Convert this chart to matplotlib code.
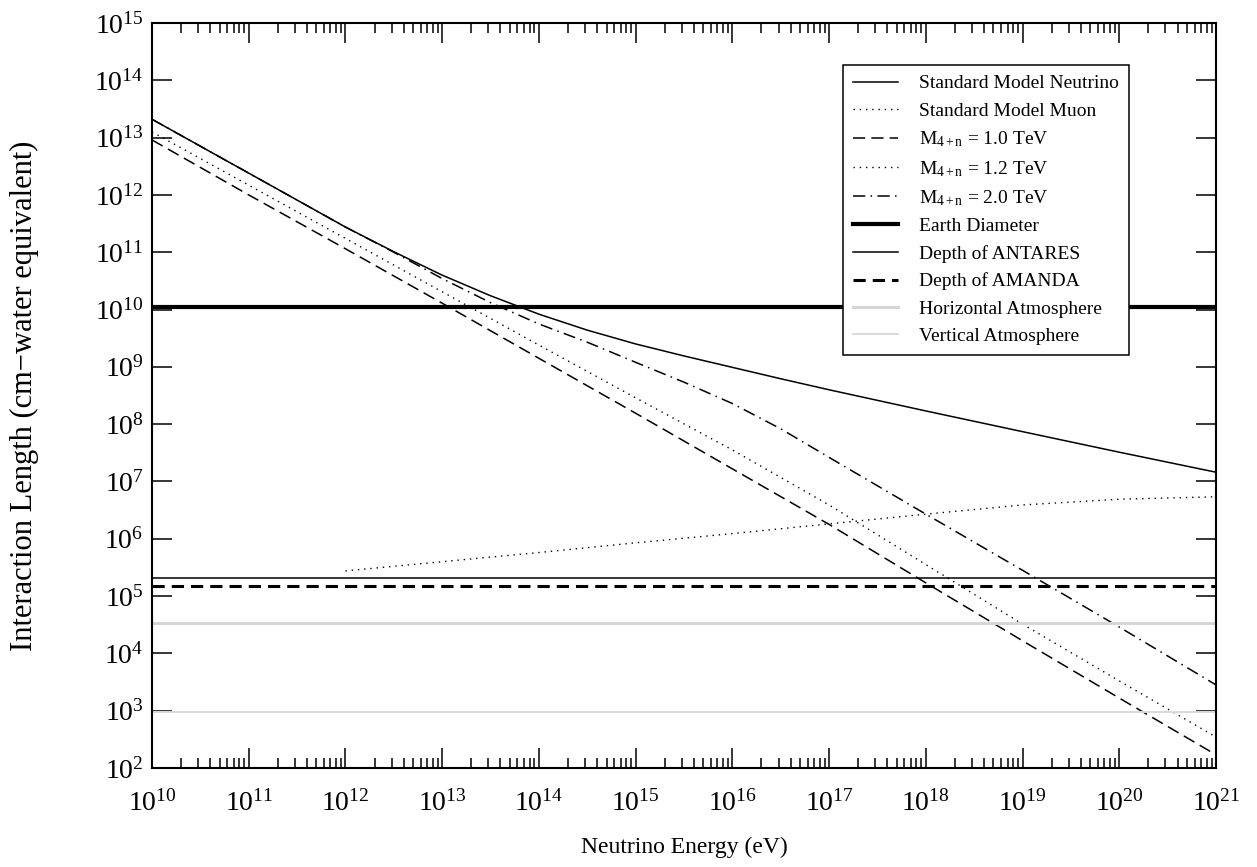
import numpy as np
import matplotlib
matplotlib.use('Agg')
import matplotlib.pyplot as plt
from matplotlib.ticker import LogLocator, NullLocator

plt.rcParams['font.family'] = ['Liberation Serif', 'DejaVu Serif']
plt.rcParams['mathtext.fontset'] = 'custom'
plt.rcParams['mathtext.rm'] = 'Liberation Serif'
plt.rcParams['mathtext.it'] = 'Liberation Serif:italic'

# energias (eV)
energia = [1e10, 1e11, 1e12, 1e13, 1e14, 1e15, 1e16, 1e17, 1e18, 1e19, 1e20, 1e21]
energia_fina = [1e10, 1e11, 1e12, 3.16e12, 1e13, 3.16e13, 1e14, 3.16e14, 1e15,
                3.16e15, 1e16, 3.16e16, 1e17, 1e18, 1e19, 1e20, 1e21]
energia_muon = [1e12, 1e13, 1e14, 1e15, 1e16, 1e17, 1e18, 1e19, 1e20, 1e21]

# longitudes de interaccion (cm agua equivalente)
sm_neutrino = [2.09e13, 2.40e12, 2.75e11, 1.02e11, 3.98e10, 1.74e10, 8.3e9, 4.37e9,
               2.51e9, 1.55e9, 9.8e8, 6.2e8, 3.98e8, 1.70e8, 7.4e7, 3.24e7, 1.45e7]
m_2_0 = [2.09e13, 2.40e12, 2.75e11, 1.0e11, 3.47e10, 1.32e10, 5.6e9, 2.69e9,
         1.20e9, 5.4e8, 2.29e8, 8.3e7, 2.63e7, 2.69e6, 2.82e5, 2.88e4, 2.82e3]
m_1_2 = [1.26e13, 1.48e12, 1.74e11, 2.04e10, 2.40e9, 2.88e8, 3.55e7, 3.89e6,
         3.55e5, 3.24e4, 3.31e3, 347]
m_1_0 = [9.1e12, 1.0e12, 1.15e11, 1.29e10, 1.41e9, 1.55e8, 1.66e7, 1.78e6,
         1.70e5, 1.66e4, 1.66e3, 170]
sm_muon = [2.75e5, 3.98e5, 5.75e5, 8.5e5, 1.23e6, 1.82e6, 2.69e6, 3.89e6, 4.9e6, 5.4e6]

# profundidades de referencia
diametro_tierra = 1.1e10
prof_antares = 2.1e5
prof_amanda = 1.5e5
atm_horizontal = 3.4e4
atm_vertical = 930

fig = plt.figure(figsize=(12.57, 8.67), dpi=100)
ax = fig.add_axes([152 / 1257, 99 / 867, 1064 / 1257, 745 / 867])

punteado = (0, (1, 3.5))
ax.plot(energia_fina, sm_neutrino, color='black', lw=1.1, label='Standard Model Neutrino')
ax.plot(energia_muon, sm_muon, color='black', lw=1.0, linestyle=punteado,
        label='Standard Model Muon')
ax.plot(energia, m_1_0, color='black', lw=1.1, linestyle=(0, (8, 4)),
        label=r'M$_{\mathrm{4+n}}$ = 1.0 TeV')
ax.plot(energia, m_1_2, color='black', lw=1.0, linestyle=punteado,
        label=r'M$_{\mathrm{4+n}}$ = 1.2 TeV')
ax.plot(energia_fina, m_2_0, color='black', lw=1.1, linestyle=(0, (8, 3.5, 1, 3.5)),
        label=r'M$_{\mathrm{4+n}}$ = 2.0 TeV')
ax.axhline(diametro_tierra, color='black', lw=3, label='Earth Diameter')
ax.axhline(prof_antares, color='black', lw=1.1, label='Depth of ANTARES')
ax.axhline(prof_amanda, color='black', lw=2.2, linestyle=(0, (4, 2.3)),
           label='Depth of AMANDA')
ax.axhline(atm_horizontal, color='#d6d6d6', lw=2.2, label='Horizontal Atmosphere')
ax.axhline(atm_vertical, color='#d9d9d9', lw=1.4, label='Vertical Atmosphere')

ax.set_xscale('log')
ax.set_yscale('log')
ax.set_xlim(1e10, 1e21)
ax.set_ylim(1e2, 1e15)

ax.xaxis.set_major_locator(LogLocator(base=10, numticks=30))
ax.xaxis.set_minor_locator(LogLocator(base=10, subs=np.arange(2, 10), numticks=30))
ax.yaxis.set_major_locator(LogLocator(base=10, numticks=30))
ax.yaxis.set_minor_locator(NullLocator())

ax.tick_params(which='both', direction='in', top=True, right=True, width=1.1)
ax.tick_params(which='major', length=14.4, labelsize=20)
ax.tick_params(which='minor', length=7.2)
ax.tick_params(axis='x', which='major', pad=16)
ax.tick_params(axis='y', which='major', pad=6)
for lado in ax.spines.values():
    lado.set_linewidth(1.5)

ax.set_xlabel('Neutrino Energy (eV)', fontsize=17)
ax.set_ylabel('Interaction Length (cm\u2212water equivalent)', fontsize=22)
ax.xaxis.set_label_coords(0.5, -0.092)
ax.yaxis.set_label_coords(-0.106, 0.5)

leg = ax.legend(loc='upper right', bbox_to_anchor=(0.918, 0.9436), borderaxespad=0,
                fontsize=14, handlelength=2.3, handletextpad=1.1, labelspacing=0.5,
                fancybox=False, framealpha=1, edgecolor='black', borderpad=0.5)
leg.get_frame().set_linewidth(1.1)

fig.savefig('out.png', dpi=100)
